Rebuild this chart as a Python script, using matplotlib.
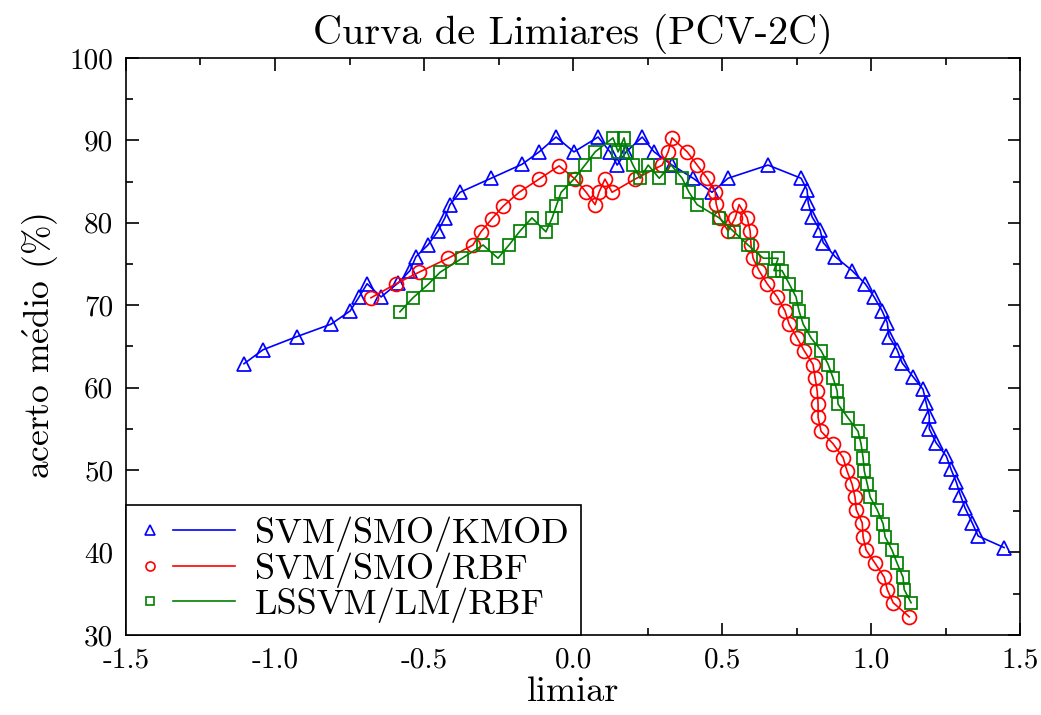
import matplotlib
matplotlib.use("Agg")
import matplotlib.pyplot as plt
from matplotlib.lines import Line2D
from matplotlib.legend_handler import HandlerBase
from matplotlib.ticker import MultipleLocator, FormatStrFormatter

plt.rcParams['font.family'] = ['cmr10', 'DejaVu Serif']
plt.rcParams['mathtext.fontset'] = 'cm'
plt.rcParams['axes.unicode_minus'] = False
plt.rcParams['axes.formatter.use_mathtext'] = True

# SVM/SMO/KMOD
kmod_x = [-1.104, -1.040, -0.926, -0.812, -0.748, -0.718, -0.691, -0.644, -0.587, -0.547,
          -0.527, -0.487, -0.453, -0.430, -0.413, -0.379, -0.275, -0.171, -0.114, -0.057,
          0.003, 0.084, 0.124, 0.148, 0.178, 0.232, 0.272, 0.332, 0.403, 0.466,
          0.520, 0.654, 0.765, 0.785, 0.789, 0.802, 0.829, 0.839, 0.879, 0.936,
          0.980, 1.010, 1.037, 1.054, 1.060, 1.087, 1.104, 1.141, 1.174, 1.185,
          1.195, 1.195, 1.218, 1.252, 1.268, 1.285, 1.299, 1.315, 1.339, 1.359, 1.446]
kmod_y = [62.9, 64.6, 66.2, 67.7, 69.3, 71.0, 72.6, 71.0, 72.7, 74.2,
          75.9, 77.3, 79.0, 80.6, 82.2, 83.7, 85.4, 87.1, 88.6, 90.4,
          88.6, 90.4, 88.6, 87.0, 88.6, 90.4, 88.6, 87.0, 85.4, 83.7,
          85.4, 87.0, 85.4, 84.0, 82.4, 80.7, 79.1, 77.6, 75.9, 74.2,
          72.6, 71.0, 69.3, 67.9, 66.2, 64.6, 63.0, 61.3, 59.8, 58.1,
          56.6, 55.0, 53.3, 51.7, 50.1, 48.6, 47.0, 45.4, 43.6, 42.0, 40.6]

# SVM/SMO/RBF
rbf_x = [-0.678, -0.594, -0.517, -0.419, -0.336, -0.309, -0.272, -0.235, -0.181, -0.114,
         -0.047, 0.007, 0.044, 0.074, 0.087, 0.107, 0.131, 0.208, 0.299, 0.319,
         0.332, 0.383, 0.416, 0.450, 0.477, 0.480, 0.493, 0.520, 0.544, 0.557,
         0.584, 0.594, 0.597, 0.604, 0.624, 0.651, 0.685, 0.711, 0.725, 0.752,
         0.775, 0.805, 0.812, 0.819, 0.822, 0.822, 0.832, 0.872, 0.906, 0.919,
         0.936, 0.946, 0.950, 0.970, 0.973, 0.983, 1.013, 1.044, 1.054, 1.074, 1.128]
rbf_y = [70.9, 72.6, 74.0, 75.7, 77.3, 78.9, 80.5, 82.0, 83.7, 85.3,
         86.9, 85.3, 83.7, 82.2, 83.7, 85.3, 83.7, 85.3, 87.0, 88.6,
         90.3, 88.6, 87.0, 85.4, 83.7, 82.3, 80.6, 79.0, 80.6, 82.2,
         80.6, 79.0, 77.3, 75.7, 74.2, 72.6, 71.0, 69.3, 67.7, 66.0,
         64.5, 62.8, 61.2, 59.6, 58.0, 56.4, 54.7, 53.2, 51.5, 49.9,
         48.3, 46.7, 45.2, 43.6, 41.9, 40.3, 38.7, 37.0, 35.5, 33.9, 32.2]

# LSSVM/LM/RBF
ls_x = [-0.581, -0.537, -0.487, -0.446, -0.372, -0.302, -0.252, -0.215, -0.178, -0.138,
        -0.091, -0.070, -0.057, -0.040, 0.003, 0.040, 0.074, 0.134, 0.151, 0.171,
        0.181, 0.201, 0.225, 0.252, 0.289, 0.329, 0.366, 0.389, 0.416, 0.490,
        0.540, 0.587, 0.638, 0.688, 0.674, 0.701, 0.725, 0.748, 0.758, 0.772,
        0.799, 0.832, 0.856, 0.872, 0.886, 0.889, 0.923, 0.956, 0.966, 0.973,
        0.977, 0.987, 0.997, 1.020, 1.040, 1.047, 1.070, 1.087, 1.107, 1.111, 1.134]
ls_y = [69.2, 70.9, 72.5, 74.0, 75.7, 77.3, 75.7, 77.3, 79.0, 80.6,
        78.9, 80.6, 82.0, 83.7, 85.3, 87.0, 88.6, 90.3, 88.6, 90.3,
        88.6, 87.0, 85.4, 87.0, 85.4, 87.0, 85.4, 83.7, 82.2, 80.6,
        78.9, 77.3, 75.7, 75.7, 74.2, 74.2, 72.6, 71.0, 69.3, 67.7,
        66.0, 64.5, 62.8, 61.2, 59.6, 58.0, 56.3, 54.7, 53.2, 51.5,
        49.9, 48.3, 46.7, 45.2, 43.5, 41.9, 40.3, 38.7, 37.0, 35.5, 33.9]

series = [
    (kmod_x, kmod_y, 'blue', '^', 'SVM/SMO/KMOD'),
    (rbf_x, rbf_y, 'red', 'o', 'SVM/SMO/RBF'),
    (ls_x, ls_y, 'green', 's', 'LSSVM/LM/RBF'),
]


# gnuplot-like key: small point on the left, then a short line
class PointLineHandler(HandlerBase):
    def create_artists(self, legend, orig_handle, xdescent, ydescent,
                       width, height, fontsize, trans):
        c, m = orig_handle
        y = height / 2 - ydescent
        x0 = -xdescent
        pt = Line2D([x0 + 0.12 * width], [y], ls='none', marker=m,
                    ms=6.5 if m != 's' else 6, mfc='none', mec=c, mew=1.2,
                    transform=trans)
        ln = Line2D([x0 + 0.36 * width, x0 + width], [y, y], color=c, lw=1.2,
                    transform=trans)
        return [pt, ln]


fig = plt.figure(figsize=(10.41, 7.15), dpi=100)
ax = fig.add_axes([0.121, 0.112, 0.859, 0.807])

for x, y, c, m, lab in series:
    ax.plot(x, y, color=c, lw=1.2, marker=m, ms=10 if m != 's' else 9,
            mfc='none', mec=c, mew=1.25, clip_on=False)

ax.set_xlim(-1.5, 1.5)
ax.set_ylim(30, 100)
ax.xaxis.set_major_locator(MultipleLocator(0.5))
ax.xaxis.set_minor_locator(MultipleLocator(0.25))
ax.yaxis.set_major_locator(MultipleLocator(10))
ax.yaxis.set_minor_locator(MultipleLocator(5))
ax.xaxis.set_major_formatter(FormatStrFormatter('%.1f'))
ax.yaxis.set_major_formatter(FormatStrFormatter('%d'))
ax.tick_params(which='both', direction='in', top=True, right=True, width=1.2, labelsize=21)
ax.tick_params(which='major', length=9, pad=9)
ax.tick_params(which='minor', length=5)
for s in ax.spines.values():
    s.set_linewidth(1.2)

ax.set_title('Curva de Limiares (PCV-2C)', fontsize=29, pad=10)
ax.set_xlabel('limiar', fontsize=26, labelpad=2)
ax.set_ylabel(r'acerto m$\acute{\mathrm{e}}$dio (%)', fontsize=25.5, labelpad=6)

keys = [(c, m) for _, _, c, m, _ in series]
labels = [lab for *_, lab in series]
leg = ax.legend(keys, labels, handler_map={tuple: PointLineHandler()},
                loc='lower left', bbox_to_anchor=(0, 0), borderaxespad=0,
                fontsize=26, handlelength=2.7, handletextpad=0.55,
                labelspacing=0.0, borderpad=0.33, fancybox=False,
                edgecolor='black', framealpha=1)
leg.get_frame().set_linewidth(1.2)

fig.savefig('out.png', dpi=100)
